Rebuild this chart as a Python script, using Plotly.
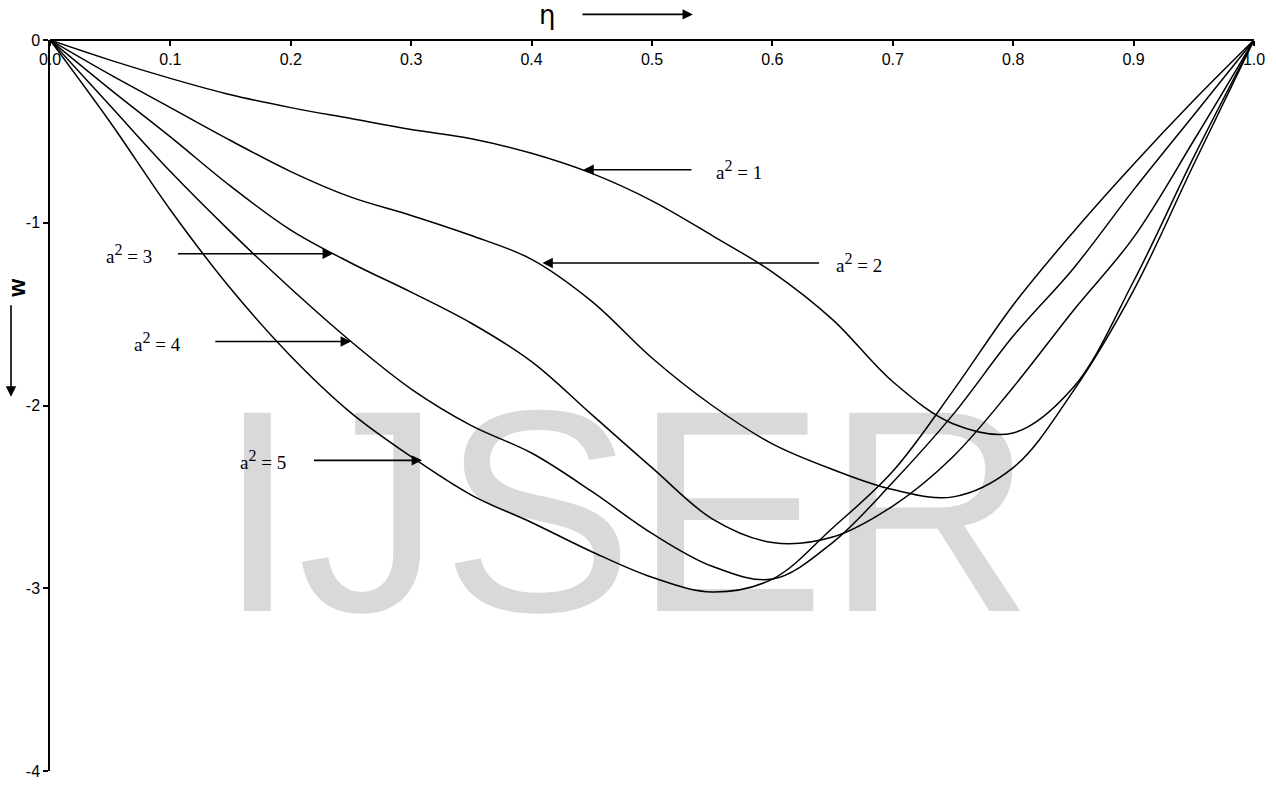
import plotly.graph_objects as go

# ---- data ----
eta = [0.0, 0.05, 0.1, 0.15, 0.2, 0.25, 0.3, 0.35, 0.4, 0.45, 0.5, 0.55,
       0.6, 0.65, 0.7, 0.75, 0.8, 0.85, 0.9, 0.95, 1.0]

w_a1 = [0, -0.11, -0.21, -0.30, -0.37, -0.43, -0.49, -0.54, -0.62, -0.73, -0.88, -1.07,
        -1.27, -1.53, -1.87, -2.10, -2.15, -1.90, -1.32, -0.64, 0]
w_a2 = [0, -0.19, -0.37, -0.55, -0.72, -0.86, -0.96, -1.07, -1.20, -1.43, -1.74, -2.00,
        -2.21, -2.35, -2.46, -2.50, -2.34, -1.92, -1.37, -0.68, 0]
w_a3 = [0, -0.27, -0.53, -0.80, -1.04, -1.22, -1.38, -1.55, -1.76, -2.05, -2.34, -2.62,
        -2.75, -2.72, -2.55, -2.28, -1.90, -1.48, -1.08, -0.55, 0]
w_a4 = [0, -0.36, -0.72, -1.05, -1.36, -1.65, -1.91, -2.11, -2.26, -2.47, -2.70, -2.88,
        -2.95, -2.75, -2.42, -2.05, -1.62, -1.25, -0.82, -0.41, 0]
w_a5 = [0, -0.45, -0.93, -1.36, -1.73, -2.04, -2.28, -2.49, -2.64, -2.80, -2.94, -3.02,
        -2.95, -2.67, -2.36, -1.92, -1.45, -1.05, -0.68, -0.33, 0]

series = [w_a1, w_a2, w_a3, w_a4, w_a5]

x_ticks = [0.0, 0.1, 0.2, 0.3, 0.4, 0.5, 0.6, 0.7, 0.8, 0.9, 1.0]
x_ticktext = ["0.0", "0.1", "0.2", "0.3", "0.4", "0.5", "0.6", "0.7", "0.8", "0.9", "1.0"]
y_ticks = [0, -1, -2, -3, -4]
y_ticktext = ["0", "-1", "-2", "-3", "-4"]

# label text, label centre (eta), arrow tail (eta), arrow tip (eta), level (w)
label_names = ["1", "2", "3", "4", "5"]
label_x = [0.572, 0.672, 0.066, 0.089, 0.177]
arrow_tail = [0.534, 0.640, 0.105, 0.136, 0.218]
arrow_tip = [0.443, 0.409, 0.235, 0.250, 0.309]
arrow_level = [-0.71, -1.22, -1.17, -1.65, -2.30]

fig = go.Figure()

# watermark (drawn first so curves are on top)
fig.add_trace(go.Scatter(
    x=[0.478], y=[-2.73], mode="text", text=["IJSER"],
    textposition="middle center",
    textfont=dict(family="Liberation Sans, Arial", size=288, color="#d9d9d9"),
    hoverinfo="skip", showlegend=False))

for s in series:
    fig.add_trace(go.Scatter(
        x=eta, y=s, mode="lines",
        line=dict(color="black", width=1.5, shape="spline", smoothing=1.0),
        hoverinfo="skip", showlegend=False))

serif = dict(family="Liberation Serif, Times New Roman", size=19, color="black")

for name, lx, tail, tip, lev in zip(label_names, label_x, arrow_tail, arrow_tip, arrow_level):
    fig.add_annotation(
        x=tip, y=lev, ax=tail, ay=lev, axref="x", ayref="y", xref="x", yref="y",
        text="", showarrow=True, arrowhead=2, arrowsize=1.3, arrowwidth=1.6,
        arrowcolor="black", standoff=0, startstandoff=0)
    fig.add_annotation(
        x=lx, y=lev, xref="x", yref="y", showarrow=False,
        text="a<sup><span style='font-size:16px'>2</span></sup> = " + name,
        font=serif, xanchor="center", yanchor="middle")

# eta label with arrow above the plot
fig.add_annotation(x=0.413, y=1.034, xref="paper", yref="paper", showarrow=False,
                   text="η", font=dict(family="DejaVu Sans, Arial", size=26, color="black"),
                   xanchor="center", yanchor="middle")
fig.add_annotation(x=0.534, y=1.035, ax=-112, ay=0, xref="paper", yref="paper",
                   axref="pixel", ayref="pixel", text="", showarrow=True, arrowhead=2,
                   arrowsize=1.3, arrowwidth=1.6, arrowcolor="black", standoff=0, startstandoff=0)

# w label with downward arrow on the left
fig.add_annotation(x=-0.028, y=0.66, xref="paper", yref="paper", showarrow=False,
                   text="<b>w</b>", textangle=-90,
                   font=dict(family="Liberation Sans, Arial", size=23, color="black"),
                   xanchor="center", yanchor="middle")
fig.add_annotation(x=-0.0324, y=0.512, ax=0, ay=-93, xref="paper", yref="paper",
                   axref="pixel", ayref="pixel", text="", showarrow=True, arrowhead=2,
                   arrowsize=1.3, arrowwidth=1.6, arrowcolor="black", standoff=0, startstandoff=0)

tickfont = dict(family="Liberation Sans, Arial", size=16, color="black")

fig.update_layout(
    width=1276, height=791,
    margin=dict(l=50, r=21, t=40, b=11),
    paper_bgcolor="white", plot_bgcolor="white",
    showlegend=False, hovermode=False,
    xaxis=dict(range=[0, 1], side="bottom", anchor="free", position=1,
               tickvals=x_ticks, ticktext=x_ticktext, ticks="outside", ticklen=5,
               tickwidth=1.5, tickcolor="black", showline=True, linecolor="black",
               linewidth=1.5, showgrid=False, zeroline=False, tickfont=tickfont),
    yaxis=dict(range=[-4, 0], tickvals=y_ticks, ticktext=y_ticktext, ticks="outside",
               ticklen=5, tickwidth=1.5, tickcolor="black", showline=True,
               linecolor="black", linewidth=1.5, showgrid=False, zeroline=False,
               tickfont=tickfont),
)

fig.write_html("out.html", config={"displayModeBar": False},
               post_script="document.body.style.margin='0';")
